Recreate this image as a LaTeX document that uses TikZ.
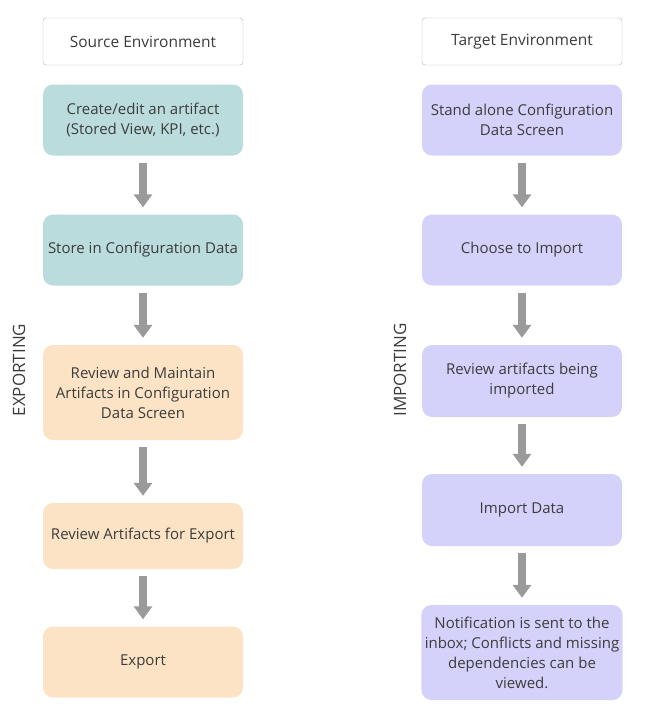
\documentclass[tikz,border=0pt]{standalone}
\usepackage{fontspec}
\setmainfont{Open Sans}
\usepackage{tikz}
\usetikzlibrary{arrows.meta}
\definecolor{srcfill}{HTML}{BADCDC}
\definecolor{revfill}{HTML}{FCE3C5}
\definecolor{tgtfill}{HTML}{D4D2FA}
\definecolor{arrowgray}{HTML}{9A9A9A}
\definecolor{txtgray}{HTML}{3C3C3C}
\tikzstyle{head} = [rectangle, draw=gray!60, fill=white, rounded corners=3pt,
                 minimum width=200pt, minimum height=47pt, text=txtgray,
                 font=\fontsize{15.5}{20}\selectfont]
\tikzstyle{block} = [rectangle, rounded corners=10pt, minimum width=200pt,
                 minimum height=71pt, align=center, text=txtgray,
                 font=\fontsize{15}{20}\selectfont]
\tikzstyle{branch} = [draw=arrowgray, line width=8pt,
                 -{Triangle[width=18pt,length=13pt]},
                 shorten <=7pt, shorten >=7pt]

\begin{document}
\begin{tikzpicture}[x=1pt,y=-1pt]

\useasboundingbox (0,0) rectangle (649,717);

\node [head] at (143,41.5) (src) {Source Environment};
\node [head] at (522,41.5) (tgt) {Target Environment};

% exporting side
\node [block, fill=srcfill] at (143,120) (s1) {Create/edit an artifact\\(Stored View, KPI, etc.)};
\node [block, fill=srcfill] at (143,250) (s2) {Store in Configuration Data};
\node [block, fill=revfill, minimum height=95pt] at (143,392.5) (s3) {Review and Maintain\\Artifacts in Configuration\\Data Screen};
\node [block, fill=revfill, minimum height=66pt] at (143,536) (s4) {Review Artifacts for Export};
\node [block, fill=revfill] at (143,662) (s5) {Export};

% importing side
\node [block, fill=tgtfill] at (522,120) (t1) {Stand alone Configuration\\Data Screen};
\node [block, fill=tgtfill] at (522,250) (t2) {Choose to Import};
\node [block, fill=tgtfill, minimum height=72pt] at (522,381) (t3) {Review artifacts being\\imported};
\node [block, fill=tgtfill, minimum height=72pt] at (522,510) (t4) {Import Data};
\node [block, fill=tgtfill, minimum height=95pt] at (522,652.5) (t5) {Notification is sent to the\\inbox; Conflicts and missing\\dependencies can be\\viewed.};

\node [rotate=90, text=txtgray, font=\fontsize{17}{20}\selectfont] at (19,370) (exp) {EXPORTING};
\node [rotate=90, text=txtgray, font=\fontsize{17}{20}\selectfont] at (400,370) (imp) {IMPORTING};

\foreach \from/\to in {s1/s2, s2/s3, s3/s4, s4/s5, t1/t2, t2/t3, t3/t4, t4/t5}
	\path [branch] (\from.south) -- (\to.north);

\end{tikzpicture}
\end{document}
